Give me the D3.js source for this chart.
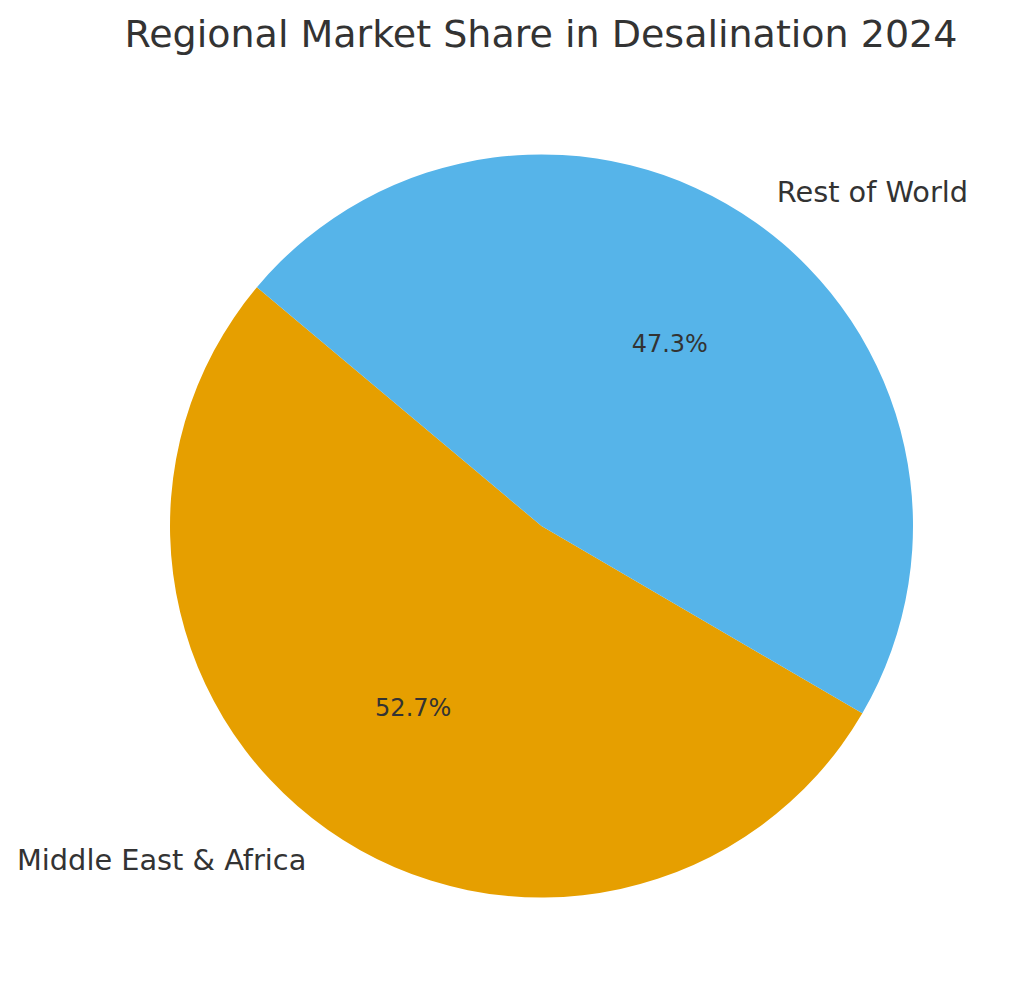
<!DOCTYPE html>
<html><head><meta charset="utf-8">
<script src="https://cdn.jsdelivr.net/npm/d3@7"></script>
<style>body{margin:0;background:#fff}</style></head>
<body><svg id="c" width="1024" height="1008"></svg>
<script>
const categories = ["Middle East & Africa", "Rest of World"];
const values = [52.7, 47.3];
const colors = ["#E69F00", "#56B4E9"];
const title = "Regional Market Share in Desalination 2024";

const svg = d3.select("#c");
const cx = 541.5, cy = 526, r = 371.5;
const font = "DejaVu Sans, sans-serif";
svg.append("text").attr("x", 541).attr("y", 47).attr("text-anchor", "middle")
  .attr("font-family", font).attr("font-size", 38).attr("fill", "#333").text(title);

const rad = d => d * Math.PI / 180;
const pie = d3.pie().sort(null).value(d => d).startAngle(rad(-50)).endAngle(rad(-410));
const arcs = pie(values);
const g = svg.append("g").attr("transform", `translate(${cx},${cy})`);
const arc = d3.arc().innerRadius(0).outerRadius(r);
g.selectAll("path").data(arcs).join("path").attr("d", arc).attr("fill", (d, i) => colors[i]);

arcs.forEach((d, i) => {
  const m = (d.startAngle + d.endAngle) / 2;
  const sx = Math.sin(m), sy = -Math.cos(m);
  g.append("text").attr("x", sx * r * 1.1).attr("y", sy * r * 1.1)
    .attr("text-anchor", sx > 0 ? "start" : "end").attr("dominant-baseline", "central")
    .attr("font-family", font).attr("font-size", 28.8).attr("fill", "#333").text(categories[i]);
  g.append("text").attr("x", sx * r * 0.6).attr("y", sy * r * 0.6)
    .attr("text-anchor", "middle").attr("dominant-baseline", "central")
    .attr("font-family", font).attr("font-size", 24).attr("fill", "#333")
    .text(values[i].toFixed(1) + "%");
});
</script></body></html>
